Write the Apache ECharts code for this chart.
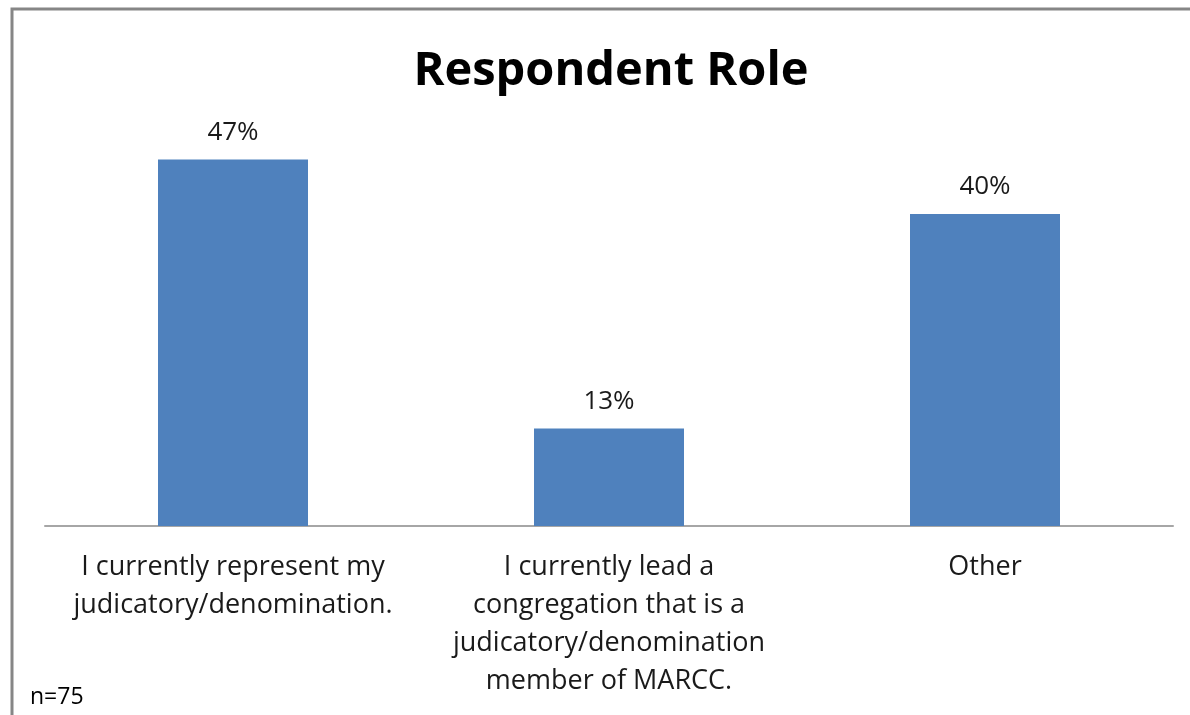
<!DOCTYPE html>
<html>
<head>
<meta charset="utf-8">
<script src="https://cdn.jsdelivr.net/npm/echarts@6/dist/echarts.min.js"></script>
<style>
html,body{margin:0;padding:0;background:#fff;}
#chart{width:1190px;height:715px;}
</style>
</head>
<body>
<div id="chart"></div>
<script>
const title = 'Respondent Role';
const categories = [
  'I currently represent my\njudicatory/denomination.',
  'I currently lead a\ncongregation that is a\njudicatory/denomination\nmember of MARCC.',
  'Other'
];
const values = [47, 12.5, 40];
const footnote = 'n=75';

const chart = echarts.init(document.getElementById('chart'));
const FONT = '"Open Sans", sans-serif';
chart.setOption({
  backgroundColor: '#ffffff',
  animation: false,
  title: {
    text: title,
    left: 606,
    textAlign: 'center',
    top: 43,
    textStyle: { fontFamily: FONT, fontWeight: 'bold', fontSize: 47, color: '#000' }
  },
  graphic: [
    {
      type: 'rect',
      shape: { x: 12, y: 9, width: 1300, height: 900 },
      style: { fill: 'none', stroke: '#868686', lineWidth: 3 },
      silent: true
    },
    {
      type: 'text',
      left: 30,
      top: 686,
      style: { text: footnote, fontFamily: FONT, fontSize: 23, fill: '#000' }
    }
  ],
  grid: { left: 45, right: 17, top: 136, bottom: 189, containLabel: false },
  xAxis: {
    type: 'category',
    data: categories,
    axisLine: { show: true, lineStyle: { color: '#a6a6a6', width: 2 } },
    axisTick: { show: false },
    axisLabel: {
      interval: 0,
      margin: 22,
      fontFamily: FONT,
      fontSize: 27,
      lineHeight: 38,
      color: '#1a1a1a',
      align: 'center'
    }
  },
  yAxis: {
    type: 'value',
    min: 0,
    max: 50,
    interval: 10,
    show: false,
    splitLine: { show: false }
  },
  series: [{
    type: 'bar',
    data: values,
    barWidth: 150,
    itemStyle: { color: '#4F81BD' },
    label: {
      show: true,
      position: 'top',
      distance: 14,
      fontFamily: FONT,
      fontSize: 26,
      color: '#1a1a1a',
      formatter: p => Math.round(p.value) + '%'
    }
  }]
});
</script>
</body>
</html>
